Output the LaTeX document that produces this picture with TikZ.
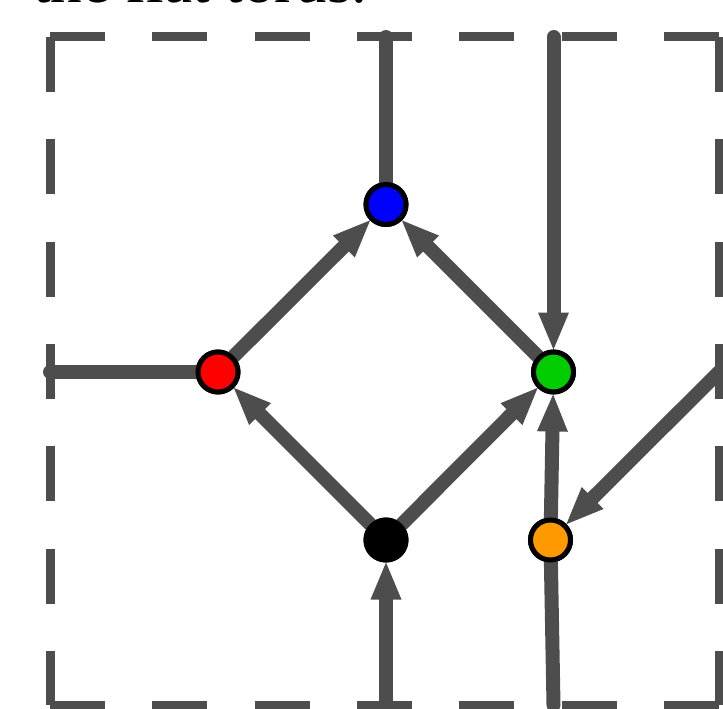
\documentclass[tikz,border=0pt]{standalone}
\usepackage{fontspec}
\setmainfont{Liberation Serif}
\usetikzlibrary{arrows.meta}
\definecolor{edgegray}{RGB}{77,77,77}
\definecolor{vblue}{RGB}{0,0,255}
\definecolor{vred}{RGB}{255,0,0}
\definecolor{vgreen}{RGB}{0,204,0}
\definecolor{vorange}{RGB}{255,153,0}
\tikzset{
  border/.style={draw=edgegray, line width=9pt, dash pattern=on 55pt off 47.3pt},
  vert/.style={circle, draw=black, line width=5pt, minimum size=40pt, inner sep=0pt, fill=#1},
  edge/.style={draw=edgegray, line width=14pt, line cap=round},
  arr/.style={edge, -{Triangle[length=37pt, width=31pt, line width=0pt]}}
}
\begin{document}
\begin{tikzpicture}[x=1pt, y=-1pt]
\useasboundingbox (0,0) rectangle (723,709);
% caption (cut off at top)
\node[anchor=base west, inner sep=0pt, font=\fontsize{63}{70}\selectfont] (cap) at (33,3) {the flat torus.};
% corners of the fundamental square
\coordinate (tl) at (50,37);
\coordinate (tr) at (719,37);
\coordinate (bl) at (50,705);
\coordinate (br) at (719,705);
\draw[border] (tl) -- (tr);
\draw[border] (tl) -- (bl);
\draw[border] (bl) -- (br);
\draw[border] (tr) -- (br);
% boundary points
\coordinate (topA) at (386,37);
\coordinate (topB) at (553.5,37);
\coordinate (botA) at (386,705);
\coordinate (botB) at (553.5,705);
\coordinate (lft) at (50,372);
\coordinate (rgt) at (719,372);
% vertices
\node[vert=vblue] (blue) at (386,204.5) {};
\node[vert=vred] (red) at (218,372) {};
\node[vert=vgreen] (green) at (553.5,372) {};
\node[vert=black] (blk) at (386,540) {};
\node[vert=vorange] (orange) at (550.5,540) {};
% edges
\draw[edge] (blue) -- (topA);
\draw[edge] (red) -- (lft);
\draw[edge] (orange) -- (botB);
\draw[arr] (topB) -- (green);
\draw[arr] (botA) -- (blk);
\draw[arr] (red) -- (blue);
\draw[arr] (green) -- (blue);
\draw[arr] (blk) -- (red);
\draw[arr] (blk) -- (green);
\draw[arr] (orange) -- (green);
\draw[arr] (rgt) -- (orange);
% redraw vertices on top
\node[vert=vblue] at (blue) {};
\node[vert=vred] at (red) {};
\node[vert=vgreen] at (green) {};
\node[vert=black] at (blk) {};
\node[vert=vorange] at (orange) {};
\end{tikzpicture}
\end{document}
